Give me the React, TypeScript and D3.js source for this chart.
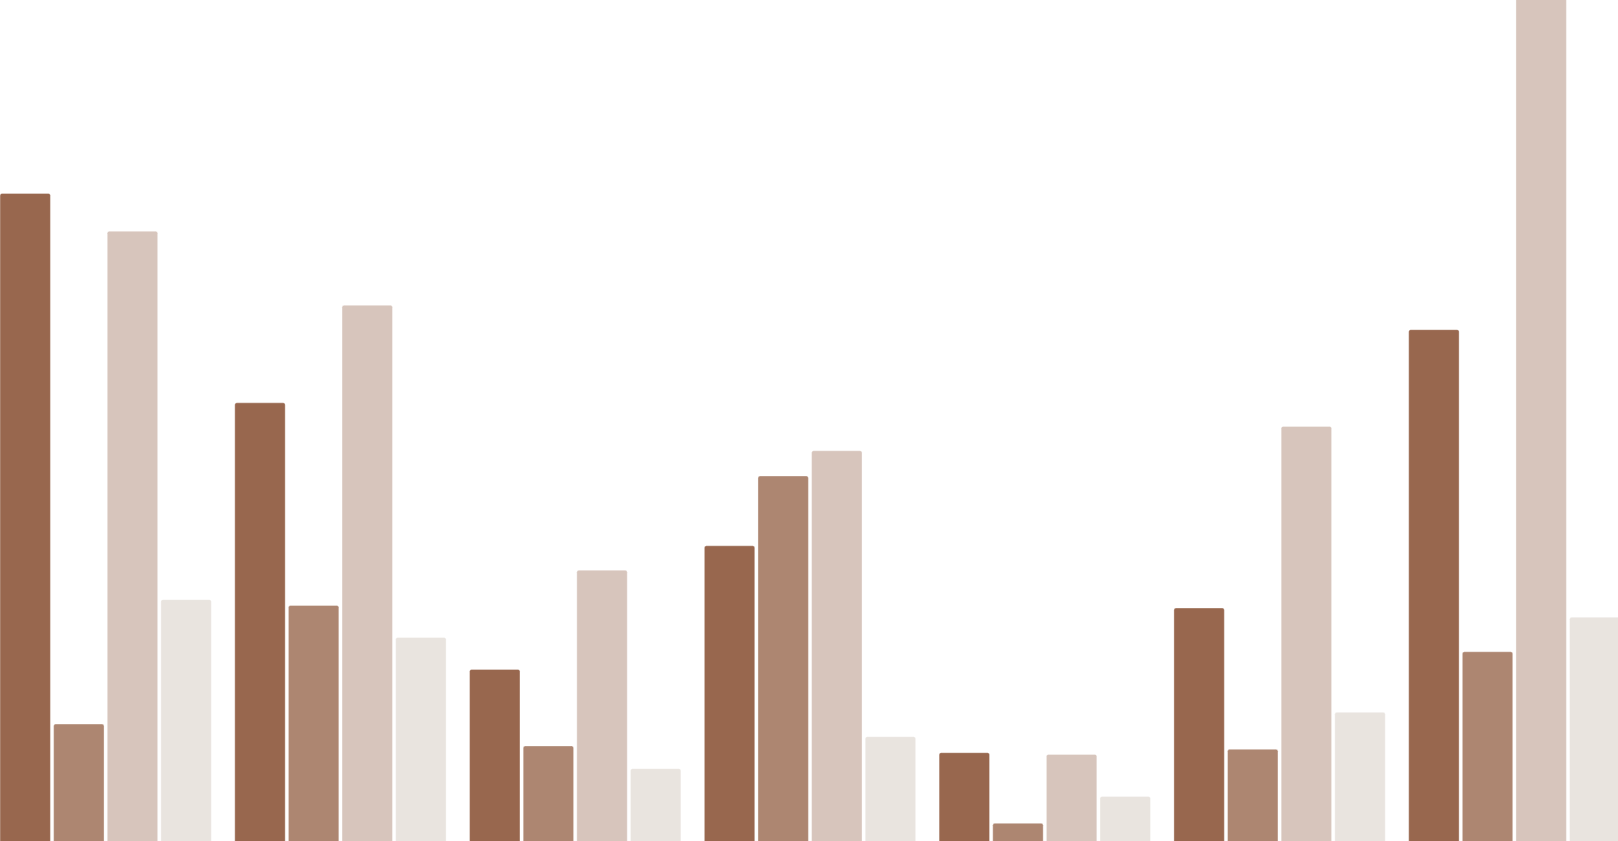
import React, { useMemo } from "react";
import { scaleBand, scaleLinear } from "d3";

const WIDTH = 1618;
const HEIGHT = 841;

const GROUPS = ["A", "B", "C", "D", "E", "F", "G"];
const SERIES = ["s1", "s2", "s3", "s4"];
const COLORS = ["#98674e", "#ad8671", "#d7c5bc", "#e9e4df"];

// one array per series, one value per group
const S1 = [77.0, 52.1, 20.4, 35.1, 10.5, 27.7, 60.8];
const S2 = [13.9, 28.0, 11.3, 43.4, 2.1, 10.9, 22.5];
const S3 = [72.5, 63.7, 32.2, 46.4, 10.3, 49.3, 102];
const S4 = [28.7, 24.2, 8.6, 12.4, 5.3, 15.3, 26.6];
const VALUES = [S1, S2, S3, S4];

export default function App() {
  // the plot runs a couple of px past the right edge, like the reference
  const x0 = useMemo(
    () => scaleBand<string>().domain(GROUPS).range([0, WIDTH + 2]).paddingInner(0.1),
    []
  );
  const x1 = useMemo(
    () => scaleBand<string>().domain(SERIES).range([0, x0.bandwidth()]).paddingInner(0.06),
    [x0]
  );
  const y = useMemo(() => scaleLinear().domain([0, 100]).range([HEIGHT, 0]), []);

  return (
    <div style={{ position: "fixed", left: 0, top: 0, width: WIDTH, height: HEIGHT, background: "#fff" }}>
      <svg width={WIDTH} height={HEIGHT} style={{ display: "block" }}>
        {GROUPS.map((g, gi) => (
          <g key={g} transform={`translate(${x0(g)},0)`}>
            {SERIES.map((s, si) => {
              const v = VALUES[si][gi];
              const top = y(v);
              return (
                <rect
                  key={s}
                  x={x1(s)}
                  y={top}
                  width={x1.bandwidth()}
                  height={HEIGHT - top + 4}
                  rx={2}
                  fill={COLORS[si]}
                  stroke="#ffffff"
                  strokeOpacity={0.35}
                  strokeWidth={1}
                />
              );
            })}
          </g>
        ))}
      </svg>
    </div>
  );
}
